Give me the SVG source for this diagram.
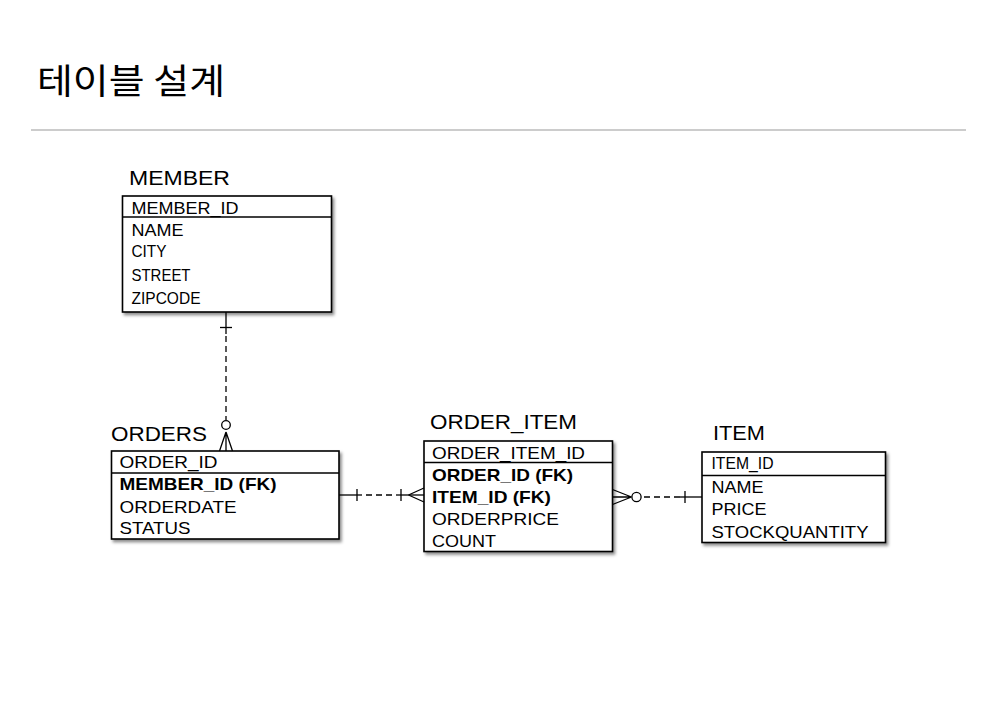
<svg xmlns="http://www.w3.org/2000/svg" width="991" height="715" viewBox="0 0 991 715">
<defs>
<filter id="sh" x="-5%" y="-5%" width="115%" height="120%">
<feDropShadow dx="2" dy="2.5" stdDeviation="1.5" flood-color="#000" flood-opacity="0.45"/>
</filter>
</defs>
<style>
.box{fill:#fff;stroke:#000;stroke-width:1.6;filter:url(#sh)}
.div{stroke:#000;stroke-width:1.4}
.t{font-family:"Liberation Sans",Arial,sans-serif;font-size:20px;fill:#000}
.r{font-family:"Liberation Sans",Arial,sans-serif;font-size:17px;fill:#000}
.b{font-weight:bold}
.ln{stroke:#000;stroke-width:1.3;fill:none}
.dash{stroke-dasharray:6 4}
</style>
<rect width="991" height="715" fill="#fff"/>
<text x="37" y="94" font-family="'Noto Sans CJK KR','Noto Sans',sans-serif" font-size="35" textLength="188" lengthAdjust="spacingAndGlyphs">테이블 설계</text>
<line x1="31" y1="130" x2="966" y2="130" stroke="#cccccc" stroke-width="2"/>

<g id="member">
<text class="t" x="129" y="185" textLength="101" lengthAdjust="spacingAndGlyphs">MEMBER</text>
<rect class="box" x="122.5" y="196" width="209" height="116"/>
<line class="div" x1="122.5" y1="217" x2="331.5" y2="217"/>
<text class="r" x="131.5" y="214" textLength="107" lengthAdjust="spacingAndGlyphs">MEMBER_ID</text>
<text class="r" x="131.5" y="235.5" textLength="52" lengthAdjust="spacingAndGlyphs">NAME</text>
<text class="r" x="131.5" y="257" textLength="35" lengthAdjust="spacingAndGlyphs">CITY</text>
<text class="r" x="131.5" y="280.5" textLength="59" lengthAdjust="spacingAndGlyphs">STREET</text>
<text class="r" x="131.5" y="304" textLength="69" lengthAdjust="spacingAndGlyphs">ZIPCODE</text>
</g>

<g id="orders">
<text class="t" x="111" y="441" textLength="96" lengthAdjust="spacingAndGlyphs">ORDERS</text>
<rect class="box" x="111.5" y="451" width="227.5" height="88"/>
<line class="div" x1="111.5" y1="473" x2="339" y2="473"/>
<text class="r" x="119.5" y="467.5" textLength="98" lengthAdjust="spacingAndGlyphs">ORDER_ID</text>
<text class="r b" x="119.5" y="490" textLength="157" lengthAdjust="spacingAndGlyphs">MEMBER_ID (FK)</text>
<text class="r" x="119.5" y="512.5" textLength="117" lengthAdjust="spacingAndGlyphs">ORDERDATE</text>
<text class="r" x="119.5" y="534" textLength="71" lengthAdjust="spacingAndGlyphs">STATUS</text>
</g>

<g id="order_item">
<text class="t" x="430" y="428.5" textLength="147" lengthAdjust="spacingAndGlyphs">ORDER_ITEM</text>
<rect class="box" x="424" y="441" width="188.5" height="110.5"/>
<line class="div" x1="424" y1="462.5" x2="612.5" y2="462.5"/>
<text class="r" x="432" y="458.5" textLength="153" lengthAdjust="spacingAndGlyphs">ORDER_ITEM_ID</text>
<text class="r b" x="432" y="481" textLength="141" lengthAdjust="spacingAndGlyphs">ORDER_ID (FK)</text>
<text class="r b" x="432" y="502.5" textLength="119" lengthAdjust="spacingAndGlyphs">ITEM_ID (FK)</text>
<text class="r" x="432" y="524.5" textLength="127" lengthAdjust="spacingAndGlyphs">ORDERPRICE</text>
<text class="r" x="432" y="546.5" textLength="64" lengthAdjust="spacingAndGlyphs">COUNT</text>
</g>

<g id="item">
<text class="t" x="713" y="439.5" textLength="52" lengthAdjust="spacingAndGlyphs">ITEM</text>
<rect class="box" x="702" y="452" width="183.5" height="90.5"/>
<line class="div" x1="702" y1="475.5" x2="885.5" y2="475.5"/>
<text class="r" x="711.5" y="469" font-size="16" textLength="62" lengthAdjust="spacingAndGlyphs">ITEM_ID</text>
<text class="r" x="711.5" y="492.5" textLength="52" lengthAdjust="spacingAndGlyphs">NAME</text>
<text class="r" x="711.5" y="515" textLength="55" lengthAdjust="spacingAndGlyphs">PRICE</text>
<text class="r" x="711.5" y="537.5" textLength="157" lengthAdjust="spacingAndGlyphs">STOCKQUANTITY</text>
</g>

<g id="connectors">
<!-- MEMBER to ORDERS -->
<line class="ln" x1="226" y1="312" x2="226" y2="334"/>
<line class="ln" x1="220" y1="327.5" x2="232" y2="327.5"/>
<line class="ln dash" x1="226" y1="336" x2="226" y2="420"/>
<circle class="ln" cx="226" cy="425" r="4.3"/>
<path class="ln" d="M226,432 L219.5,451 M226,432 L226,451 M226,432 L232.5,451"/>
<!-- ORDERS to ORDER_ITEM -->
<line class="ln" x1="339" y1="495" x2="362" y2="495"/>
<line class="ln" x1="357" y1="489" x2="357" y2="501"/>
<line class="ln dash" x1="366" y1="495" x2="394" y2="495"/>
<line class="ln" x1="396" y1="495" x2="424" y2="495"/>
<line class="ln" x1="401" y1="489" x2="401" y2="501"/>
<path class="ln" d="M408.5,495 L424,488 M408.5,495 L424,502"/>
<!-- ORDER_ITEM to ITEM -->
<path class="ln" d="M612.5,489.5 L631.5,497 M612.5,504.5 L631.5,497 M612.5,497 L631.5,497"/>
<circle class="ln" cx="636.5" cy="497" r="4.6"/>
<line class="ln dash" x1="644" y1="497" x2="680" y2="497"/>
<line class="ln" x1="680" y1="497" x2="702" y2="497"/>
<line class="ln" x1="685" y1="491" x2="685" y2="503"/>
</g>
</svg>
